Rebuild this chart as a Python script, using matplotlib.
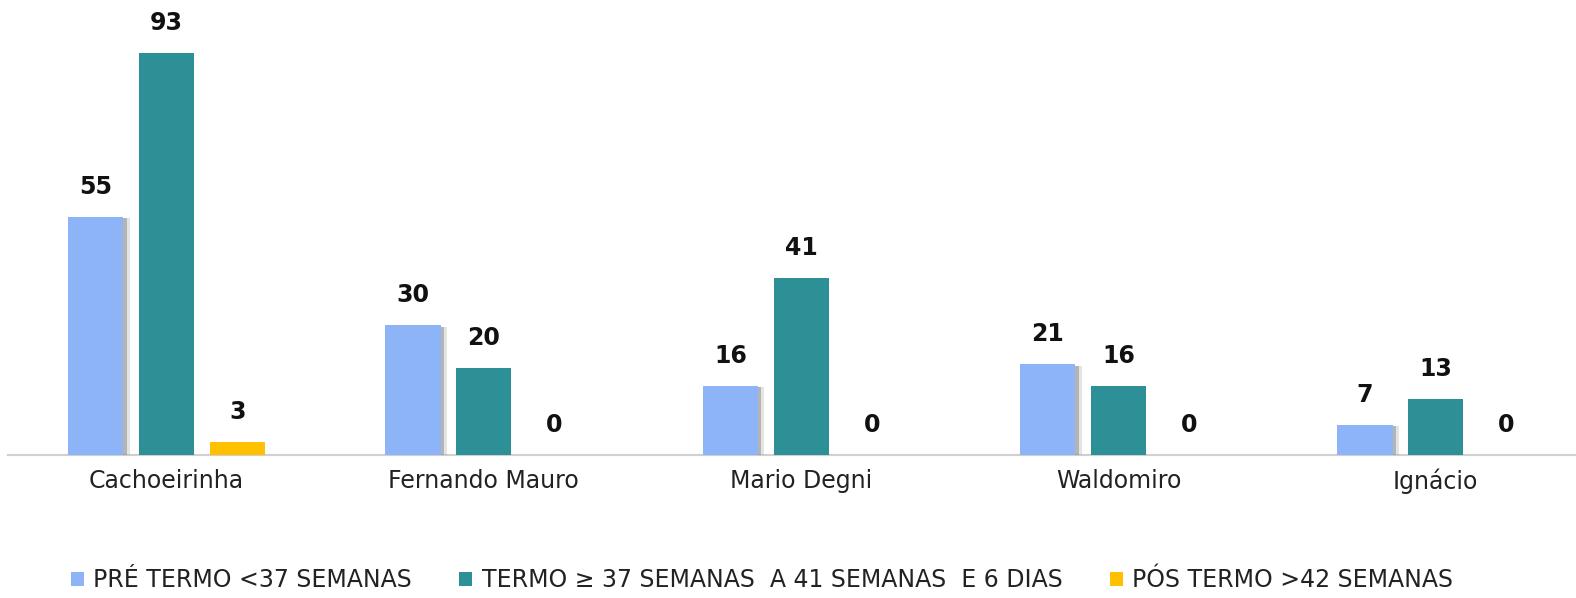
import matplotlib
matplotlib.use("Agg")
import matplotlib.pyplot as plt
import matplotlib.patheffects as pe
from matplotlib.patches import Patch
import numpy as np

plt.rcParams['font.family'] = ['DejaVu Sans']

categories = ["Cachoeirinha", "Fernando Mauro", "Mario Degni", "Waldomiro", "Ignácio"]
series_names = ["PRÉ TERMO <37 SEMANAS",
                "TERMO ≥ 37 SEMANAS  A 41 SEMANAS  E 6 DIAS",
                "PÓS TERMO >42 SEMANAS"]
pre_termo = [55, 30, 16, 21, 7]
termo = [93, 20, 41, 16, 13]
pos_termo = [3, 0, 0, 0, 0]
colors = ["#8DB4F7", "#2E9097", "#FFC000"]

W, H = 1576, 598
fig = plt.figure(figsize=(W / 100, H / 100), dpi=100)
ax_left = 7.9
ax_bottom = H - 455
px_per_cat = 317.3
ax_w = px_per_cat * 5
ax_top = 455 - 4.326 * 100
ax = fig.add_axes([ax_left / W, ax_bottom / H, ax_w / W, (455 - ax_top) / H])

x = np.arange(len(categories))
width = 0.174
step = 0.223
series = [pre_termo, termo, pos_termo]
for i, (vals, c) in enumerate(zip(series, colors)):
    bars = ax.bar(x + (i - 1) * step, vals, width, color=c, zorder=3)
    if i == 0:
        for b in bars:
            b.set_path_effects([
                pe.SimplePatchShadow(offset=(4.5, -1), shadow_rgbFace='#a8a8a8', alpha=0.3),
                pe.SimplePatchShadow(offset=(2.5, -1), shadow_rgbFace='#7a7a7a', alpha=0.45),
                pe.Normal()])
    for b, v in zip(bars, vals):
        ax.annotate(str(v), (b.get_x() + b.get_width() / 2, v), xytext=(0, 13),
                    textcoords="offset points", ha="center", va="bottom",
                    fontsize=17, fontweight="bold", color="#111111")

ax.set_xlim(-0.5, 4.5)
ax.set_ylim(0, 100)
ax.set_xticks(x)
ax.set_xticklabels(categories, fontsize=17, color="#222222")
ax.tick_params(axis='x', length=0, pad=10)
ax.set_yticks([])
for s in ["left", "right", "top"]:
    ax.spines[s].set_visible(False)
ax.spines["bottom"].set_color("#D0D0D0")
ax.spines["bottom"].set_linewidth(1.5)

handles = [Patch(facecolor=c, edgecolor='none') for c in colors]
fig.legend(handles, series_names, loc="center", bbox_to_anchor=(762 / W, 1 - 580 / H),
           ncol=3, frameon=False, fontsize=17, handlelength=0.55, handleheight=0.55,
           handletextpad=0.4, columnspacing=2.0, labelcolor="#222222")

fig.savefig("out.png", dpi=100, facecolor="white")
